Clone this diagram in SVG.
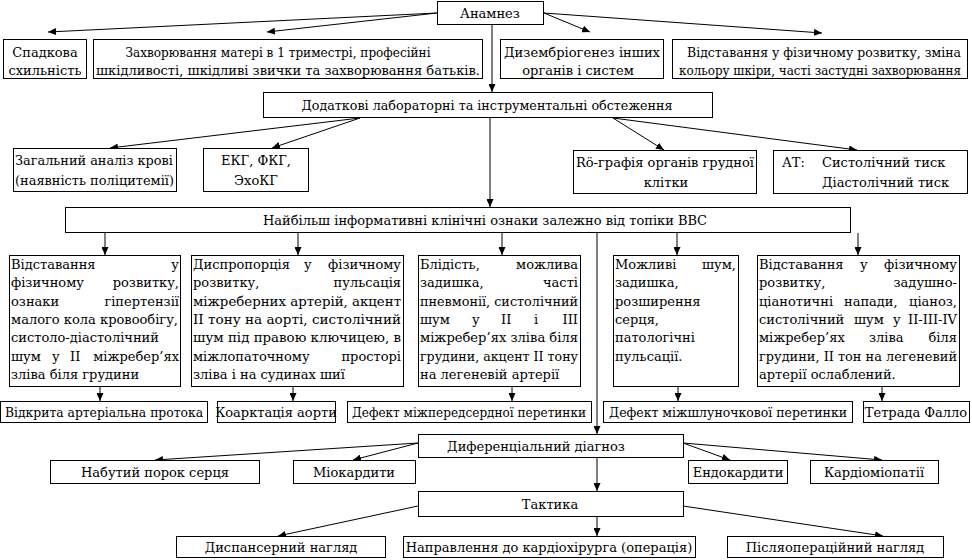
<svg xmlns="http://www.w3.org/2000/svg" width="972" height="560" viewBox="0 0 972 560">
<style>
rect{fill:#fff;stroke:#000;stroke-width:1}
text{font-family:"DejaVu Serif",serif;font-size:13px;fill:#000}
.c{text-anchor:middle}
.e{text-anchor:end}
.s{font-size:12px}
#conn line{stroke:#000;stroke-width:1;marker-end:url(#ah)}
</style>
<defs>
<marker id="ah" markerUnits="userSpaceOnUse" markerWidth="9" markerHeight="7" refX="8" refY="3.5" orient="auto">
<path d="M0,0 L8,3.5 L0,7 z" fill="#000"/>
</marker>
</defs>
<rect x="0" y="0" width="972" height="560" style="stroke:none"/>

<g id="conn">
<line x1="437" y1="13" x2="48" y2="32"/>
<line x1="437" y1="13" x2="267" y2="32"/>
<line x1="544" y1="13" x2="590" y2="32"/>
<line x1="544" y1="13" x2="822" y2="33"/>
<line x1="492" y1="25" x2="492" y2="92"/>
<line x1="360" y1="118" x2="110" y2="148"/>
<line x1="360" y1="118" x2="272" y2="148"/>
<line x1="613" y1="118" x2="664" y2="150"/>
<line x1="613" y1="118" x2="857" y2="150"/>
<line x1="490" y1="118" x2="490" y2="207"/>
<line x1="105" y1="233" x2="105" y2="255"/>
<line x1="298" y1="233" x2="298" y2="255"/>
<line x1="502" y1="233" x2="502" y2="255"/>
<line x1="597" y1="233" x2="597" y2="434"/>
<line x1="677" y1="233" x2="677" y2="255"/>
<line x1="858" y1="233" x2="858" y2="255"/>
<line x1="100" y1="387" x2="100" y2="401"/>
<line x1="293" y1="387" x2="293" y2="401"/>
<line x1="512" y1="387" x2="512" y2="401"/>
<line x1="678" y1="387" x2="678" y2="401"/>
<line x1="882" y1="387" x2="882" y2="401"/>
<line x1="418" y1="443" x2="155" y2="460"/>
<line x1="418" y1="443" x2="353" y2="460"/>
<line x1="683" y1="443" x2="730" y2="460"/>
<line x1="683" y1="443" x2="882" y2="460"/>
<line x1="597" y1="457" x2="597" y2="491"/>
<line x1="418" y1="506" x2="278" y2="536"/>
<line x1="597" y1="517" x2="597" y2="536"/>
<line x1="683" y1="506" x2="883" y2="536"/>
</g>

<g id="anamnez"><rect x="437.5" y="1.5" width="106" height="23"/><text class="c" x="490" y="18">Анамнез</text></g>

<g id="spadkova"><rect x="3.5" y="39.5" width="83" height="39"/><text class="c" x="45" y="57">Спадкова</text><text class="c" x="45" y="75">схильність</text></g>
<g id="zakhvor"><rect x="93.5" y="39.5" width="389" height="39"/><text class="c" x="278" y="57" textLength="305" lengthAdjust="spacingAndGlyphs">Захворювання матері в 1 триместрі, професійні</text><text class="c" x="288" y="75" textLength="384" lengthAdjust="spacingAndGlyphs">шкідливості, шкідливі звички та захворювання батьків.</text></g>
<g id="dyzembr"><rect x="500.5" y="39.5" width="163" height="39"/><text class="c" x="582" y="57" textLength="156" lengthAdjust="spacingAndGlyphs">Дизембріогенез інших</text><text class="c" x="578" y="75">органів і систем</text></g>
<g id="vidst1"><rect x="672.5" y="39.5" width="295" height="39"/><text class="c s" x="824" y="57" textLength="274" lengthAdjust="spacingAndGlyphs">Відставання у фізичному розвитку, зміна</text><text class="c s" x="820" y="75" textLength="282" lengthAdjust="spacingAndGlyphs">кольору шкіри, часті застудні захворювання</text></g>

<g id="dodatkovi"><rect x="263.5" y="92.5" width="449" height="25"/><text class="c" x="487" y="110" textLength="371" lengthAdjust="spacingAndGlyphs">Додаткові лабораторні та інструментальні обстеження</text></g>

<g id="zagalnyi"><rect x="13.5" y="148.5" width="163" height="43"/><text x="15" y="165" textLength="158" lengthAdjust="spacingAndGlyphs">Загальний аналіз крові</text><text x="15" y="185" textLength="159" lengthAdjust="spacingAndGlyphs">(наявність поліцитемії)</text></g>
<g id="ekg"><rect x="203.5" y="148.5" width="105" height="43"/><text class="c" x="256" y="165">ЕКГ, ФКГ,</text><text class="c" x="256" y="185">ЭхоКГ</text></g>
<g id="rografia"><rect x="573.5" y="150.5" width="183" height="43"/><text x="576" y="167" textLength="178" lengthAdjust="spacingAndGlyphs">Rö-графія органів грудної</text><text class="c" x="666" y="187">клітки</text></g>
<g id="at"><rect x="773.5" y="150.5" width="194" height="43"/><text x="782" y="167">АТ:</text><text x="822" y="167">Систолічний тиск</text><text x="822" y="187">Діастолічний тиск</text></g>

<g id="naibilsh"><rect x="65.5" y="207.5" width="785" height="25"/><text x="263" y="225" textLength="444" lengthAdjust="spacingAndGlyphs">Найбільш інформативні клінічні ознаки залежно від топіки ВВС</text></g>

<g id="box1"><rect x="9.5" y="255.5" width="171" height="131"/>
<text x="11" y="269">Відставання</text><text class="e" x="179" y="269">у</text>
<text x="11" y="287">фізичному</text><text class="e" x="179" y="287">розвитку,</text>
<text x="11" y="306">ознаки</text><text class="e" x="179" y="306">гіпертензії</text>
<text x="11" y="324" textLength="167" lengthAdjust="spacingAndGlyphs">малого кола кровообігу,</text>
<text x="11" y="342">систоло-діастолічний</text>
<text x="11" y="361">шум</text><text x="52" y="361">у</text><text x="70" y="361">ІІ</text><text class="e" x="179" y="361">міжребер’ях</text>
<text x="11" y="379">зліва біля грудини</text>
</g>
<g id="box2"><rect x="191.5" y="255.5" width="212" height="131"/>
<text x="193" y="269">Диспропорція</text><text x="304" y="269">у</text><text class="e" x="401" y="269">фізичному</text>
<text x="193" y="287">розвитку,</text><text class="e" x="401" y="287">пульсація</text>
<text x="193" y="306" textLength="208" lengthAdjust="spacingAndGlyphs">міжреберних артерій, акцент</text>
<text x="193" y="324" textLength="208" lengthAdjust="spacingAndGlyphs">ІІ тону на аорті, систолічний</text>
<text x="193" y="342" textLength="208" lengthAdjust="spacingAndGlyphs">шум під правою ключицею, в</text>
<text x="193" y="361">міжлопаточному</text><text class="e" x="401" y="361">просторі</text>
<text x="193" y="379">зліва і на судинах шиї</text>
</g>
<g id="box3"><rect x="418.5" y="255.5" width="162" height="131"/>
<text x="420" y="269">Блідість,</text><text class="e" x="578" y="269">можлива</text>
<text x="420" y="287">задишка,</text><text class="e" x="578" y="287">часті</text>
<text x="420" y="306" textLength="158" lengthAdjust="spacingAndGlyphs">пневмонії, систолічний</text>
<text x="420" y="324">шум</text><text x="472" y="324">у</text><text x="501" y="324">ІІ</text><text x="534" y="324">і</text><text class="e" x="578" y="324">ІІІ</text>
<text x="420" y="342" textLength="158" lengthAdjust="spacingAndGlyphs">міжребер’ях зліва біля</text>
<text x="420" y="361" textLength="158" lengthAdjust="spacingAndGlyphs">грудини, акцент ІІ тону</text>
<text x="420" y="379">на легеневій артерії</text>
</g>
<g id="box4"><rect x="613.5" y="255.5" width="125" height="131"/>
<text x="615" y="269">Можливі</text><text class="e" x="736" y="269">шум,</text>
<text x="615" y="287">задишка,</text>
<text x="615" y="306">розширення</text>
<text x="615" y="324">серця,</text>
<text x="615" y="342">патологічні</text>
<text x="615" y="361">пульсації.</text>
</g>
<g id="box5"><rect x="757.5" y="255.5" width="202" height="131"/>
<text x="759" y="269">Відставання</text><text x="860" y="269">у</text><text class="e" x="957" y="269">фізичному</text>
<text x="759" y="287">розвитку,</text><text class="e" x="957" y="287">задушно-</text>
<text x="759" y="306">ціанотичні</text><text x="844" y="306">напади,</text><text class="e" x="957" y="306">ціаноз,</text>
<text x="759" y="324">систолічний</text><text x="854" y="324">шум</text><text x="893" y="324">у</text><text class="e" x="957" y="324">ІІ-ІІІ-ІV</text>
<text x="759" y="342">міжребер’ях</text><text x="869" y="342">зліва</text><text class="e" x="957" y="342">біля</text>
<text x="759" y="361" textLength="198" lengthAdjust="spacingAndGlyphs">грудини, ІІ тон на легеневий</text>
<text x="759" y="379">артерії ослаблений.</text>
</g>

<g id="vap"><rect x="0.5" y="401.5" width="207" height="21"/><text class="c" x="104" y="417" textLength="198" lengthAdjust="spacingAndGlyphs">Відкрита артеріальна протока</text></g>
<g id="koarkt"><rect x="217.5" y="401.5" width="118" height="21"/><text class="c" x="276" y="417">Коарктація аорти</text></g>
<g id="dmpp"><rect x="347.5" y="401.5" width="244" height="21"/><text class="c" x="469" y="417" textLength="234" lengthAdjust="spacingAndGlyphs">Дефект міжпередсердної перетинки</text></g>
<g id="dmshp"><rect x="603.5" y="401.5" width="249" height="21"/><text class="c" x="728" y="417" textLength="238" lengthAdjust="spacingAndGlyphs">Дефект міжшлуночкової перетинки</text></g>
<g id="tetrada"><rect x="863.5" y="401.5" width="106" height="21"/><text class="c" x="916" y="417">Тетрада Фалло</text></g>

<g id="dyfdiag"><rect x="418.5" y="434.5" width="265" height="23"/><text class="c" x="536" y="451">Диференціальний діагноз</text></g>
<g id="nabutyi"><rect x="50.5" y="460.5" width="209" height="23"/><text class="c" x="155" y="477">Набутий порок серця</text></g>
<g id="miokard"><rect x="293.5" y="460.5" width="122" height="23"/><text class="c" x="354" y="477">Міокардити</text></g>
<g id="endokard"><rect x="688.5" y="460.5" width="99" height="23"/><text class="c" x="738" y="477">Ендокардити</text></g>
<g id="kardiomio"><rect x="810.5" y="460.5" width="128" height="23"/><text class="c" x="874" y="477">Кардіоміопатії</text></g>

<g id="taktyka"><rect x="418.5" y="491.5" width="265" height="25"/><text class="c" x="550" y="509">Тактика</text></g>
<g id="dyspans"><rect x="176.5" y="536.5" width="209" height="21"/><text class="c" x="281" y="552">Диспансерний нагляд</text></g>
<g id="napravl"><rect x="403.5" y="536.5" width="292" height="21"/><text class="c" x="549" y="552">Направлення до кардіохірурга (операція)</text></g>
<g id="pisliaop"><rect x="727.5" y="536.5" width="216" height="21"/><text class="c" x="835" y="552">Післяопераційний нагляд</text></g>
</svg>
